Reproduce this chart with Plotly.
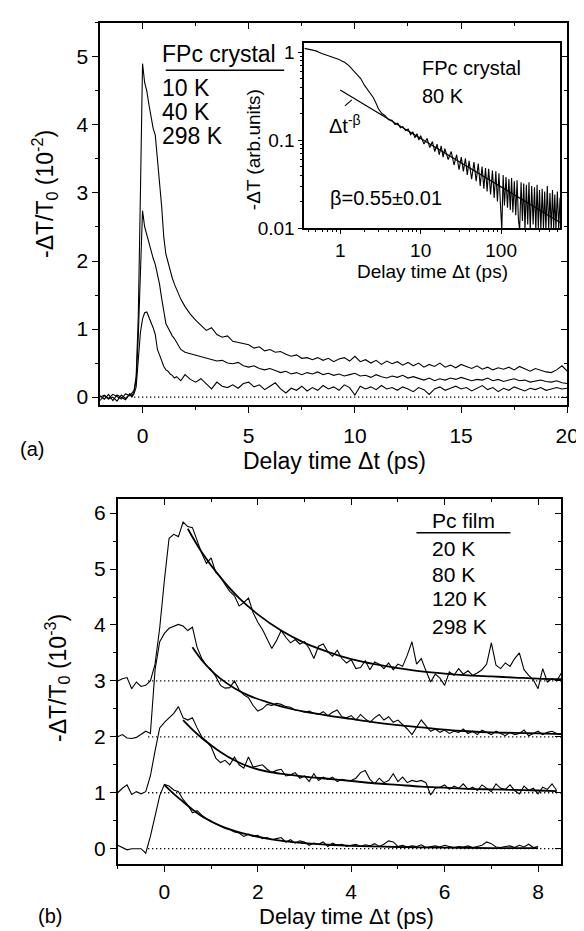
import plotly.graph_objects as go

W, H = 584, 931
FONT = "Liberation Sans, Arial, sans-serif"

# ---- panel (a): FPc crystal, -dT/T0 in units of 1e-2 ----
t_a = [-2.0, -1.8, -1.6, -1.4, -1.2, -1.0, -0.8, -0.6,
       -0.5, -0.4, -0.3, -0.2, -0.1,
       0.0, 0.1, 0.2, 0.3, 0.4, 0.5, 0.6, 0.7, 0.8, 0.9, 1.0, 1.1, 1.2, 1.3, 1.4, 1.5, 1.6,
       1.8, 2.0,
       2.25, 2.5, 2.75, 3.0, 3.25, 3.5, 3.75, 4.0, 4.25, 4.5, 4.75, 5.0,
       5.25, 5.5, 5.75, 6.0, 6.25, 6.5, 6.75, 7.0, 7.25, 7.5, 7.75, 8.0,
       8.25, 8.5, 8.75, 9.0, 9.25, 9.5, 9.75, 10.0, 10.25, 10.5, 10.75, 11.0,
       11.25, 11.5, 11.75, 12.0, 12.25, 12.5, 12.75, 13.0, 13.25, 13.5, 13.75, 14.0,
       14.25, 14.5, 14.75, 15.0, 15.25, 15.5, 15.75, 16.0, 16.25, 16.5, 16.75, 17.0,
       17.25, 17.5, 17.75, 18.0, 18.25, 18.5, 18.75, 19.0, 19.25, 19.5, 19.75, 20.0]

a_10K = [0.00, 0.03, -0.02, 0.04, 0.01, -0.03, 0.05, 0.02,
         0.06, 0.10, 0.30, 1.20, 3.00,
         4.90, 4.62, 4.50, 4.30, 4.10, 3.95, 3.85, 3.45, 3.15, 2.80, 2.35, 2.10, 1.98, 1.85, 1.75, 1.66, 1.58,
         1.44, 1.33,
         1.22, 1.13, 1.05, 0.98, 1.02, 0.92, 0.88, 0.90, 0.82, 0.80, 0.78, 0.77,
         0.72, 0.74, 0.68, 0.70, 0.66, 0.67, 0.63, 0.60, 0.62, 0.57, 0.58, 0.55,
         0.58, 0.54, 0.57, 0.52, 0.56, 0.58, 0.53, 0.60, 0.52, 0.55, 0.50, 0.54,
         0.48, 0.53, 0.49, 0.52, 0.47, 0.51, 0.46, 0.50, 0.44, 0.48, 0.45, 0.50,
         0.44, 0.47, 0.43, 0.48, 0.45, 0.42, 0.46, 0.41, 0.44, 0.40, 0.43, 0.41,
         0.44, 0.40, 0.45, 0.41, 0.38, 0.42, 0.39, 0.37, 0.36, 0.40, 0.46, 0.38]

a_40K = [0.02, -0.03, 0.04, -0.05, 0.03, 0.00, -0.04, 0.05,
         0.02, 0.08, 0.25, 0.90, 1.90,
         2.74, 2.50, 2.38, 2.25, 2.15, 2.04, 1.95, 1.80, 1.66, 1.45, 1.24, 1.08, 1.02, 0.95, 0.90, 0.86, 0.80,
         0.70, 0.66,
         0.64, 0.62, 0.60, 0.57, 0.55, 0.53, 0.54, 0.50, 0.49, 0.51, 0.46, 0.44,
         0.46, 0.42, 0.40, 0.42, 0.39, 0.36, 0.38, 0.34, 0.36, 0.33, 0.36, 0.34,
         0.37, 0.33, 0.35, 0.32, 0.34, 0.31, 0.33, 0.35, 0.31, 0.32, 0.29, 0.33,
         0.30, 0.28, 0.31, 0.29, 0.32, 0.28, 0.30, 0.27, 0.25, 0.28, 0.24, 0.27,
         0.25, 0.28, 0.26, 0.29, 0.27, 0.24, 0.26, 0.25, 0.28, 0.24, 0.26, 0.23,
         0.25, 0.27, 0.24, 0.25, 0.22, 0.24, 0.25, 0.23, 0.22, 0.24, 0.21, 0.20]

a_298K = [-0.05, 0.02, -0.03, 0.00, -0.06, 0.03, -0.02, 0.04,
          0.00, 0.05, 0.15, 0.55, 0.95,
          1.15, 1.24, 1.25, 1.18, 1.10, 1.02, 0.92, 0.70, 0.62, 0.52, 0.45, 0.40, 0.38, 0.34, 0.32, 0.28, 0.30,
          0.24, 0.33,
          0.26, 0.22, 0.27, 0.20, 0.12, 0.22, 0.16, 0.14, 0.18, 0.13, 0.20, 0.22,
          0.15, 0.18, 0.11, 0.16, 0.21, 0.12, 0.06, 0.13, 0.10, 0.16, 0.09, 0.14,
          0.10, 0.17, 0.12, 0.15, 0.10, 0.18, 0.14, 0.03, 0.16, 0.12, 0.15, 0.11,
          0.17, 0.12, 0.14, 0.10, 0.15, 0.12, 0.08, 0.14, 0.11, 0.04, 0.12, 0.15,
          0.10, 0.13, 0.16, 0.12, 0.14, 0.09, 0.13, 0.17, 0.11, 0.14, 0.08, 0.13,
          0.10, 0.15, 0.12, 0.09, 0.13, 0.11, 0.14, 0.10, 0.12, 0.14, 0.12, 0.13]

legend_a = ["FPc crystal", "10 K", "40 K", "298 K"]

# ---- inset: FPc crystal 80 K, log-log ----
t_in = [0.36, 0.42, 0.5, 0.58, 0.66, 0.75, 0.85, 0.95, 1.05, 1.15, 1.3, 1.45, 1.6, 1.8, 2.0, 2.2, 2.4, 2.6, 2.8,
        3.0, 3.3, 3.6, 4.0, 4.4, 4.8, 5.2, 5.6, 6.0, 6.5, 7.0, 7.5, 8.0, 8.5, 9.0, 9.5,
        10, 11, 12, 13, 14, 15, 16, 17, 18, 19, 20, 22, 24, 26, 28, 30, 32, 34, 36, 38, 40,
        43, 46, 49, 52, 55, 58, 61, 64, 67, 70, 74, 78, 82, 86, 90, 94, 98,
        102, 106, 110, 115, 120, 125, 130, 135, 140, 146, 152, 158, 164, 170, 177, 184, 191, 198,
        206, 214, 222, 230, 240, 250, 260, 270, 280, 290, 300, 312, 324, 336, 348, 360,
        375, 390, 405, 420, 435, 450, 465, 480, 500, 520, 540, 555]
v_in = [1.10, 1.07, 1.03, 0.97, 0.93, 0.90, 0.87, 0.83, 0.79, 0.76, 0.69, 0.62, 0.56, 0.50, 0.42, 0.37, 0.33, 0.30, 0.26,
        0.225, 0.200, 0.190, 0.170, 0.168, 0.150, 0.155, 0.138, 0.142, 0.128, 0.133, 0.115, 0.124, 0.106, 0.118, 0.100,
        0.112, 0.090, 0.104, 0.082, 0.096, 0.074, 0.090, 0.068, 0.086, 0.064, 0.080, 0.060, 0.074, 0.052, 0.068, 0.046,
        0.064, 0.044, 0.062, 0.040, 0.058,
        0.036, 0.056, 0.034, 0.054, 0.030, 0.050, 0.028, 0.048, 0.026, 0.047, 0.024, 0.045, 0.022, 0.044, 0.020, 0.042, 0.019,
        0.0095, 0.040, 0.018, 0.038, 0.017, 0.036, 0.016, 0.037, 0.015, 0.034, 0.014, 0.035, 0.0125, 0.0095, 0.033, 0.012,
        0.032, 0.0095, 0.031, 0.011, 0.033, 0.0095, 0.030, 0.011, 0.029, 0.0095, 0.031, 0.010, 0.027, 0.0095, 0.028, 0.010,
        0.026, 0.0095, 0.030, 0.0098, 0.025, 0.0095, 0.027, 0.0098, 0.024, 0.0095, 0.026, 0.0098, 0.022, 0.0115]
t_fit_in = [1.0, 550]
v_fit_in = [0.37, 0.0115]

# ---- panel (b): Pc film, -dT/T0 in units of 1e-3 (curves offset by 0,1,2,3) ----
t_b = [-1.0, -0.9, -0.8, -0.7, -0.6, -0.5, -0.4, -0.3, -0.2, -0.1,
       0.0, 0.1, 0.2, 0.3, 0.4, 0.5, 0.6, 0.7, 0.8, 0.9,
       1.0, 1.1, 1.2, 1.3, 1.4, 1.5, 1.6, 1.7, 1.8, 1.9,
       2.0, 2.1, 2.2, 2.3, 2.4, 2.5, 2.6, 2.7, 2.8, 2.9,
       3.0, 3.1, 3.2, 3.3, 3.4, 3.5, 3.6, 3.7, 3.8, 3.9,
       4.0, 4.1, 4.2, 4.3, 4.4, 4.5, 4.6, 4.7, 4.8, 4.9,
       5.0, 5.1, 5.2, 5.3, 5.4, 5.5, 5.6, 5.7, 5.8, 5.9,
       6.0, 6.1, 6.2, 6.3, 6.4, 6.5, 6.6, 6.7, 6.8, 6.9,
       7.0, 7.1, 7.2, 7.3, 7.4, 7.5, 7.6, 7.7, 7.8, 7.9,
       8.0, 8.1, 8.2, 8.3, 8.4, 8.5]

b_20K = [3.00, 3.04, 3.06, 2.86, 2.98, 2.90, 2.92, 3.00, 3.30, 3.95,
         4.80, 5.55, 5.62, 5.58, 5.84, 5.76, 5.74, 5.52, 5.28, 5.10,
         5.20, 4.94, 4.86, 4.72, 4.60, 4.52, 4.34, 4.40, 4.48, 4.22,
         4.05, 3.92, 3.74, 3.58, 3.72, 3.90, 3.78, 3.68, 3.74, 3.66,
         3.70, 3.58, 3.40, 3.62, 3.66, 3.52, 3.44, 3.55, 3.40, 3.32,
         3.38, 3.22, 3.24, 3.36, 3.20, 3.34, 3.30, 3.22, 3.32, 3.20,
         3.30, 3.26, 3.46, 3.70, 3.30, 3.40, 3.18, 2.98, 3.12, 3.05,
         2.92, 3.16, 3.10, 3.22, 3.12, 3.18, 3.10, 3.14, 3.20, 3.30,
         3.68, 3.28, 3.22, 3.32, 3.26, 3.40, 3.50, 3.20, 3.10, 3.02,
         2.86, 3.22, 2.98, 3.04, 3.00, 3.14]

b_80K = [2.00, 2.04, 1.98, 1.97, 1.99, 2.05, 2.10, 2.06, 3.20, 3.70,
         3.85, 3.94, 3.98, 4.01, 3.98, 3.90, 3.96, 3.60, 3.40, 3.28,
         3.20, 3.08, 2.92, 2.87, 2.88, 3.00, 2.84, 2.75, 2.70, 2.56,
         2.46, 2.50, 2.58, 2.56, 2.60, 2.58, 2.54, 2.53, 2.48, 2.47,
         2.44, 2.46, 2.42, 2.40, 2.45, 2.38, 2.44, 2.48, 2.36, 2.34,
         2.38, 2.30, 2.40, 2.32, 2.26, 2.34, 2.40, 2.30, 2.36, 2.26,
         2.30, 2.22, 2.14, 2.04, 2.18, 2.30, 2.20, 2.10, 2.14, 2.08,
         2.12, 2.06, 2.10, 2.08, 2.14, 2.06, 2.10, 2.04, 2.12, 2.08,
         2.04, 2.10, 2.06, 2.02, 2.08, 2.04, 2.06, 2.12, 2.02, 2.06,
         2.10, 2.04, 2.08, 2.10, 2.06, 2.05]

b_120K = [1.00, 1.08, 1.14, 0.97, 1.02, 0.98, 1.02, 1.30, 1.75, 2.16,
          2.26, 2.34, 2.42, 2.54, 2.34, 2.30, 2.34, 2.16, 2.00, 1.92,
          1.82, 1.62, 1.54, 1.58, 1.50, 1.64, 1.50, 1.44, 1.64, 1.46,
          1.48, 1.50, 1.42, 1.36, 1.40, 1.42, 1.30, 1.32, 1.36, 1.26,
          1.30, 1.20, 1.34, 1.22, 1.28, 1.24, 1.28, 1.20, 1.24, 1.22,
          1.22, 1.26, 1.36, 1.40, 1.24, 1.16, 1.26, 1.18, 1.22, 1.34,
          1.20, 1.28, 1.18, 1.22, 1.20, 1.22, 1.18, 0.96, 1.08, 1.10,
          1.14, 1.06, 1.12, 1.08, 1.16, 1.06, 1.10, 1.04, 1.14, 1.08,
          1.02, 1.16, 1.08, 1.06, 1.14, 1.04, 0.98, 1.12, 1.04, 1.08,
          0.98, 1.10, 1.06, 1.16, 1.04]

b_298K = [0.06, 0.02, -0.02, 0.00, 0.00, 0.00, -0.08, 0.22, 0.58, 0.95,
          1.15, 1.12, 1.05, 1.02, 0.88, 0.78, 0.64, 0.68, 0.60, 0.54,
          0.48, 0.44, 0.40, 0.36, 0.34, 0.30, 0.28, 0.22, 0.26, 0.22,
          0.24, 0.18, 0.20, 0.16, 0.18, 0.20, 0.12, 0.16, 0.10, 0.14,
          0.12, 0.06, 0.10, 0.08, 0.12, 0.04, 0.10, 0.06, 0.08, 0.04,
          0.06, 0.08, 0.04, 0.07, 0.05, 0.09, 0.04, 0.08, 0.14, 0.12,
          0.04, 0.06, 0.03, 0.05, 0.04, 0.07, 0.02, 0.04, 0.05, 0.03,
          0.06, 0.04, 0.02, 0.04, 0.03, 0.05, 0.02, 0.04, 0.06, 0.12,
          0.09, 0.03, 0.02, 0.04, 0.05, 0.02, 0.06, 0.03, 0.08, 0.02,
          0.04]

# exponential fits
fit_20K_t = [0.5, 0.8, 1.2, 1.6, 2.0, 2.5, 3.0, 3.5, 4.0, 4.5, 5.0, 5.5, 6.0, 6.5, 7.0, 7.5, 8.0, 8.5]
fit_20K_v = [5.72, 5.30, 4.85, 4.48, 4.19, 3.90, 3.68, 3.52, 3.39, 3.30, 3.23, 3.17, 3.13, 3.10, 3.08, 3.06, 3.04, 3.03]
fit_80K_t = [0.6, 0.8, 1.0, 1.2, 1.5, 1.8, 2.2, 2.6, 3.0, 3.5, 4.0, 4.5, 5.0, 5.5, 6.0, 6.5, 7.0, 7.5, 8.0, 8.5]
fit_80K_v = [3.60, 3.37, 3.19, 3.04, 2.87, 2.74, 2.62, 2.52, 2.45, 2.38, 2.32, 2.26, 2.21, 2.17, 2.13, 2.10, 2.08, 2.07, 2.06, 2.05]
fit_120K_t = [0.4, 0.6, 0.8, 1.0, 1.2, 1.5, 1.8, 2.2, 2.6, 3.0, 3.5, 4.0, 4.5, 5.0, 5.5, 6.0, 6.5, 7.0, 7.5, 8.0, 8.4]
fit_120K_v = [2.30, 2.13, 1.98, 1.85, 1.73, 1.58, 1.47, 1.38, 1.33, 1.29, 1.25, 1.21, 1.17, 1.14, 1.11, 1.09, 1.07, 1.06, 1.05, 1.04, 1.03]
fit_298K_t = [0.0, 0.2, 0.4, 0.6, 0.8, 1.0, 1.2, 1.5, 1.8, 2.2, 2.6, 3.0, 3.5, 4.0, 5.0, 6.0, 7.0, 8.0]
fit_298K_v = [1.14, 0.98, 0.84, 0.70, 0.58, 0.49, 0.41, 0.32, 0.25, 0.18, 0.13, 0.10, 0.07, 0.05, 0.03, 0.02, 0.01, 0.01]

baselines_b = [0, 1, 2, 3]
legend_b = ["Pc film", "20 K", "80 K", "120 K", "298 K"]

for s in (a_10K, a_40K, a_298K):
    assert len(s) == len(t_a)
assert len(t_in) == len(v_in)


def px(x):
    return x / W


def py(y):
    return 1 - y / H


fig = go.Figure()

line_data = dict(color="black", width=1.1)
line_fit = dict(color="black", width=1.8, shape="spline")

for ys in (a_10K, a_40K, a_298K):
    fig.add_trace(go.Scatter(x=t_a, y=ys, mode="lines", line=line_data, xaxis="x", yaxis="y"))

fig.add_trace(go.Scatter(x=t_in, y=v_in, mode="lines", line=line_data, xaxis="x3", yaxis="y3"))
fig.add_trace(go.Scatter(x=t_fit_in, y=v_fit_in, mode="lines", line=dict(color="black", width=1.2),
                         xaxis="x3", yaxis="y3"))

for ys in (b_20K, b_80K, b_120K, b_298K):
    fig.add_trace(go.Scatter(x=t_b[:len(ys)], y=ys, mode="lines", line=line_data, xaxis="x2", yaxis="y2"))
for ft, fv in ((fit_20K_t, fit_20K_v), (fit_80K_t, fit_80K_v),
               (fit_120K_t, fit_120K_v), (fit_298K_t, fit_298K_v)):
    fig.add_trace(go.Scatter(x=ft, y=fv, mode="lines", line=line_fit, xaxis="x2", yaxis="y2"))

# empty traces so the inward-tick overlay axes get drawn
for xa, ya in (("x4", "y"), ("x", "y4"), ("x5", "y2"), ("x2", "y5")):
    fig.add_trace(go.Scatter(x=[None], y=[None], mode="lines", xaxis=xa, yaxis=ya, hoverinfo="skip"))

# dotted zero lines
dots = dict(color="black", width=1.3, dash="1.3px,2.7px")
fig.add_shape(type="line", xref="x", yref="y", x0=-0.4, x1=20, y0=0, y1=0, line=dots, layer="below")
for b in baselines_b:
    fig.add_shape(type="line", xref="x2", yref="y2", x0=-0.35, x1=8.5, y0=b, y1=b, line=dots, layer="below")

tickfont = dict(family=FONT, size=21, color="black")
base = dict(showline=True, linecolor="black", linewidth=1.6, mirror=True, ticks="outside",
            ticklen=6, tickwidth=1.3, tickcolor="black", showgrid=False, zeroline=False,
            tickfont=tickfont)
inward = dict(ticks="inside", ticklen=6, tickwidth=1.3, tickcolor="black", showticklabels=False,
              showline=False, showgrid=False, zeroline=False)

xa_dom = [px(94), px(571)]
ya_dom = [py(401), py(14)]
xb_dom = [px(112), px(565)]
yb_dom = [py(865), py(496)]
xa_rng, ya_rng = [-2, 20], [-0.12, 5.5]
xb_rng, yb_rng = [-1, 8.5], [-0.27, 6.25]
inset_font = dict(family=FONT, size=19, color="black")

fig.update_layout(
    width=W, height=H, margin=dict(l=0, r=0, t=0, b=0),
    paper_bgcolor="white", plot_bgcolor="white", showlegend=False,
    font=dict(family=FONT, color="black"),
    xaxis=dict(base, domain=xa_dom, range=xa_rng, anchor="y", tick0=0, dtick=5, ticklabelstandoff=5,
               minor=dict(ticks="outside", ticklen=3, dtick=2.5, tickcolor="black")),
    yaxis=dict(base, domain=ya_dom, range=ya_rng, anchor="x", tick0=0, dtick=1,
               minor=dict(ticks="outside", ticklen=3, dtick=0.5, tickcolor="black")),
    xaxis4=dict(inward, overlaying="x", side="top", anchor="y", range=xa_rng, tick0=0, dtick=5,
                minor=dict(ticks="inside", ticklen=3, dtick=2.5, tickcolor="black")),
    yaxis4=dict(inward, overlaying="y", side="right", anchor="x", range=ya_rng, tick0=0, dtick=1,
                minor=dict(ticks="inside", ticklen=3, dtick=0.5, tickcolor="black")),
    xaxis2=dict(base, domain=xb_dom, range=xb_rng, anchor="y2", tick0=0, dtick=2, ticklabelstandoff=2,
                minor=dict(ticks="outside", ticklen=3, dtick=1, tickcolor="black")),
    yaxis2=dict(base, domain=yb_dom, range=yb_rng, anchor="x2", tick0=0, dtick=1,
                minor=dict(ticks="outside", ticklen=3, dtick=0.5, tickcolor="black")),
    xaxis5=dict(inward, overlaying="x2", side="top", anchor="y2", range=xb_rng, tick0=0, dtick=2,
                minor=dict(ticks="inside", ticklen=3, dtick=1, tickcolor="black")),
    yaxis5=dict(inward, overlaying="y2", side="right", anchor="x2", range=yb_rng, tick0=0, dtick=1,
                minor=dict(ticks="inside", ticklen=3, dtick=0.5, tickcolor="black")),
    xaxis3=dict(base, type="log", domain=[px(302.5), px(564)], range=[-0.446, 2.737], anchor="y3",
                dtick=1, ticklen=4, tickfont=inset_font, ticklabelstandoff=0,
                minor=dict(ticks="outside", ticklen=2, tickcolor="black")),
    yaxis3=dict(base, type="log", domain=[py(222), py(34)], range=[-2.004, 0.107], anchor="x3",
                dtick=1, ticklen=4, tickfont=inset_font,
                minor=dict(ticks="outside", ticklen=2, tickcolor="black")),
)


def label(text, x, y, size, xanchor="left", angle=0):
    fig.add_annotation(text=text, x=px(x), y=py(y), xref="paper", yref="paper", showarrow=False,
                       xanchor=xanchor, yanchor="middle", textangle=angle,
                       font=dict(family=FONT, size=size, color="black"))


# panel (a)
label("-ΔT/T<sub>0</sub> (10<sup>-2</sup>)", 37, 187, 23, "center", -90)
label("Delay time Δt (ps)", 333, 457, 23, "center")
label("(a)", 25, 445, 20, "center")
for txt, yy in zip(legend_a, [46, 80, 104, 129]):
    label(txt, 155, yy, 23)
fig.add_shape(type="line", xref="paper", yref="paper", x0=px(161), x1=px(282), y0=py(62), y1=py(62),
              line=dict(color="black", width=1.5))

# inset
label("-ΔT (arb.units)", 250, 142, 19, "center", -90)
label("Delay time Δt (ps)", 433, 266, 19, "center")
label("FPc crystal", 421, 60, 20)
label("80 K", 421, 88, 20)
label("Δt<sup>-β</sup>", 326, 117, 20)
label("β=0.55±0.01", 327, 191, 20)
fig.add_shape(type="line", xref="paper", yref="paper", x0=px(344), x1=px(351), y0=py(98), y1=py(92),
              line=dict(color="black", width=1.2))

# panel (b)
label("-ΔT/T<sub>0</sub> (10<sup>-3</sup>)", 50, 677, 23, "center", -90)
label("Delay time Δt (ps)", 346, 918, 22, "center")
label("(b)", 43, 918, 20, "center")
for txt, yy in zip(legend_b, [518, 546, 572, 597, 625]):
    label(txt, 431, yy, 21)
fig.add_shape(type="line", xref="paper", yref="paper", x0=px(417), x1=px(513), y0=py(530), y1=py(530),
              line=dict(color="black", width=1.5))

fig.write_html("out.html")
